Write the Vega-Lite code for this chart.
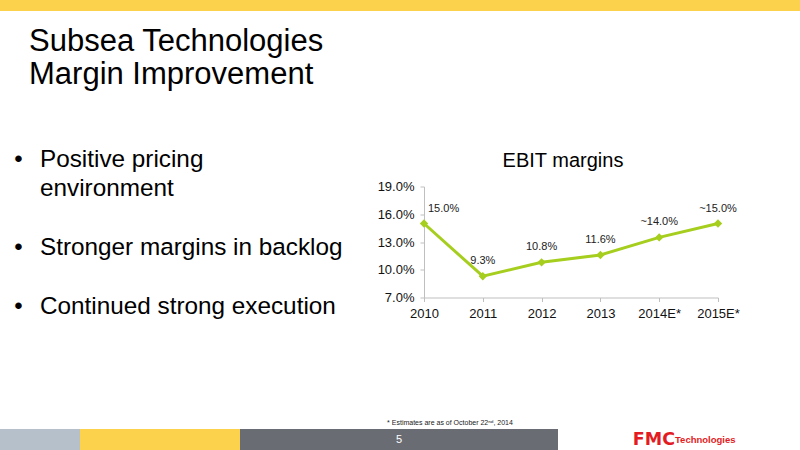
{
  "$schema": "https://vega.github.io/schema/vega-lite/v6.json",
  "padding": 0,
  "background": "white",
  "config": {"view": {"stroke": null}, "font": "Liberation Sans"},
  "datasets": {
    "ebit": [
      {"year": "2010", "margin": 0.150, "label": "15.0%"},
      {"year": "2011", "margin": 0.093, "label": "9.3%"},
      {"year": "2012", "margin": 0.108, "label": "10.8%"},
      {"year": "2013", "margin": 0.116, "label": "11.6%"},
      {"year": "2014E*", "margin": 0.135, "label": "~14.0%"},
      {"year": "2015E*", "margin": 0.150, "label": "~15.0%"}
    ],
    "bullets": [
      {"line": 0, "bullet": "•", "text": "Positive pricing"},
      {"line": 1, "bullet": "", "text": "environment"},
      {"line": 3, "bullet": "•", "text": "Stronger margins in backlog"},
      {"line": 5, "bullet": "•", "text": "Continued strong execution"}
    ],
    "slide": [
      {"page": "5", "brand": "FMC", "division": "Technologies"}
    ]
  },
  "spacing": 98,
  "vconcat": [
    {
      "spacing": 57.5,
      "vconcat": [
        {
          "data": {"name": "slide"},
          "width": 800,
          "height": 11,
          "mark": {"type": "rect", "color": "#fcd14b"},
          "encoding": {},
          "title": {
            "text": ["Subsea Technologies", "Margin Improvement"],
            "orient": "bottom",
            "anchor": "start",
            "baseline": "top",
            "fontSize": 31,
            "fontWeight": "normal",
            "lineHeight": 33,
            "offset": 15.5,
            "dx": 29,
            "color": "#000000"
          }
        },
        {
          "spacing": 27,
          "hconcat": [
            {
              "data": {"name": "bullets"},
              "width": 350,
              "height": 111,
              "encoding": {
                "y": {"field": "line", "type": "quantitative", "scale": {"domain": [0.66, 4.45], "reverse": true}, "axis": null},
                "x": {"datum": 0, "type": "quantitative", "scale": {"domain": [0, 1]}, "axis": null}
              },
              "layer": [
                {
                  "mark": {"type": "text", "align": "center", "baseline": "alphabetic", "dx": 18.5, "fontSize": 24, "color": "#000000"},
                  "encoding": {"text": {"field": "bullet"}}
                },
                {
                  "mark": {"type": "text", "align": "left", "baseline": "alphabetic", "dx": 40, "fontSize": 24.3, "color": "#000000"},
                  "encoding": {"text": {"field": "text"}}
                }
              ]
            },
            {
              "data": {"name": "ebit"},
              "width": 294,
              "height": 111,
              "title": {"text": "EBIT margins", "fontSize": 20, "fontWeight": "normal", "offset": 10, "color": "#000000", "frame": "group", "dx": -8},
              "encoding": {
                "x": {
                  "field": "year", "type": "ordinal", "sort": null,
                  "scale": {"padding": 0},
                  "axis": {"title": null, "labelAngle": 0, "domainColor": "#bfbfbf", "tickColor": "#bfbfbf", "tickSize": 4, "labelPadding": 6, "labelFontSize": 13, "labelColor": "#111111"}
                },
                "y": {
                  "field": "margin", "type": "quantitative",
                  "scale": {"domain": [0.07, 0.19]},
                  "axis": {"title": null, "values": [0.07, 0.10, 0.13, 0.16, 0.19], "format": ".1%", "grid": false, "domainColor": "#bfbfbf", "tickColor": "#bfbfbf", "tickSize": 4, "labelPadding": 6, "labelFontSize": 13, "labelColor": "#111111"}
                }
              },
              "layer": [
                {"mark": {"type": "line", "color": "#a6ce1e", "strokeWidth": 3}},
                {"mark": {"type": "point", "shape": "diamond", "filled": true, "color": "#a6ce1e", "size": 70, "opacity": 1}},
                {
                  "transform": [{"filter": "datum.year === '2010'"}],
                  "mark": {"type": "text", "align": "left", "dx": 4, "dy": -15, "fontSize": 11, "color": "#222222"},
                  "encoding": {"text": {"field": "label"}}
                },
                {
                  "transform": [{"filter": "datum.year !== '2010'"}],
                  "mark": {"type": "text", "align": "center", "dy": -15, "fontSize": 11, "color": "#222222"},
                  "encoding": {"text": {"field": "label"}}
                }
              ]
            }
          ]
        }
      ]
    },
    {
      "spacing": 0,
      "title": {"text": "* Estimates are as of October 22ⁿᵈ, 2014", "fontSize": 7, "fontWeight": "normal", "anchor": "middle", "dx": 50, "offset": 3, "color": "#222222"},
      "hconcat": [
        {"data": {"name": "slide"}, "width": 80, "height": 21, "mark": {"type": "rect", "color": "#b6c0cb"}, "encoding": {}},
        {"data": {"name": "slide"}, "width": 160, "height": 21, "mark": {"type": "rect", "color": "#fcd14b"}, "encoding": {}},
        {
          "data": {"name": "slide"}, "width": 318, "height": 21,
          "layer": [
            {"mark": {"type": "rect", "color": "#6a6c73"}, "encoding": {}},
            {"mark": {"type": "text", "color": "#ffffff", "fontSize": 11}, "encoding": {"text": {"field": "page"}}}
          ]
        },
        {
          "data": {"name": "slide"}, "width": 242, "height": 21,
          "layer": [
            {"mark": {"type": "text", "align": "right", "dx": -4, "color": "#e31b23", "fontSize": 17.5, "fontWeight": "bold", "font": "DejaVu Sans"}, "encoding": {"text": {"field": "brand"}}},
            {"mark": {"type": "text", "align": "left", "dx": -4, "color": "#e31b23", "fontSize": 9.5, "fontWeight": "bold", "font": "Liberation Sans"}, "encoding": {"text": {"field": "division"}}}
          ]
        }
      ]
    }
  ]
}
